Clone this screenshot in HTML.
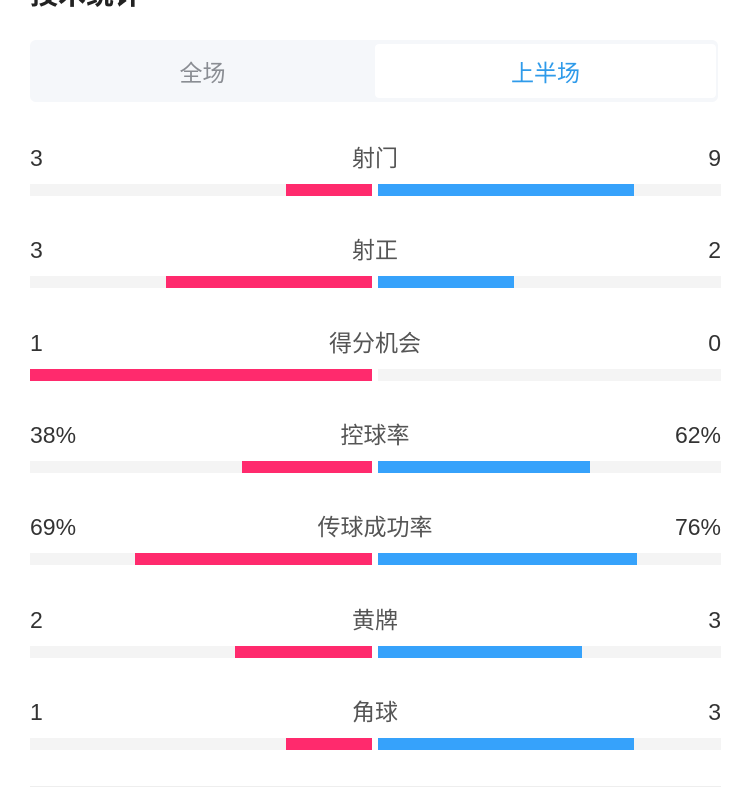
<!DOCTYPE html><html><head><meta charset="utf-8"><style>
body{margin:0;width:750px;height:807px;background:#fff;position:relative;overflow:hidden;font-family:"Liberation Sans","Noto Sans CJK SC",sans-serif}
.a{position:absolute}
.t{font-size:23px;color:#333;line-height:26px}
.c{font-size:23px;color:#555;line-height:26px;width:300px;left:225px;text-align:center}
.tr{background:#f4f4f4;height:12px}
.r{background:#ff2a6d;height:12px}.b{background:#36a2fb;height:12px}
</style></head><body>
<div class="a" style="left:30px;top:-21px;font-size:28px;font-weight:bold;color:#222;line-height:32px">技术统计</div>
<div class="a" style="left:30px;top:40px;width:688px;height:62px;background:#f5f7fa;border-radius:6px"></div>
<div class="a" style="left:375px;top:44px;width:341px;height:54px;background:#fff;border-radius:4px"></div>
<div class="a" style="left:30px;top:60px;width:345px;text-align:center;font-size:23px;color:#8a8d93;line-height:26px">全场</div>
<div class="a" style="left:375px;top:60px;width:341px;text-align:center;font-size:23px;color:#2f9bea;line-height:26px">上半场</div>
<div id="rows"></div>
<div class="a" style="left:30px;top:786px;width:691px;height:1px;background:#eee"></div>
<script>
var d=[["3","射门","9",286,634],["3","射正","2",166,514],["1","得分机会","0",30,378],["38%","控球率","62%",242,590],["69%","传球成功率","76%",135,637],["2","黄牌","3",235,582],["1","角球","3",286,634]];
var h="";d.forEach(function(r,i){var y=145+i*92.3,by=184+i*92.3;
h+='<div class="a t" style="left:30px;top:'+y+'px">'+r[0]+'</div><div class="a c" style="top:'+y+'px">'+r[1]+'</div><div class="a t" style="right:29px;top:'+y+'px">'+r[2]+'</div>';
h+='<div class="a tr" style="left:30px;top:'+by+'px;width:342px"></div><div class="a tr" style="left:378px;top:'+by+'px;width:343px"></div>';
h+='<div class="a r" style="left:'+r[3]+'px;top:'+by+'px;width:'+(372-r[3])+'px"></div>';
if(r[4]>378)h+='<div class="a b" style="left:378px;top:'+by+'px;width:'+(r[4]-378)+'px"></div>';});
document.getElementById("rows").innerHTML=h;
</script></body></html>
